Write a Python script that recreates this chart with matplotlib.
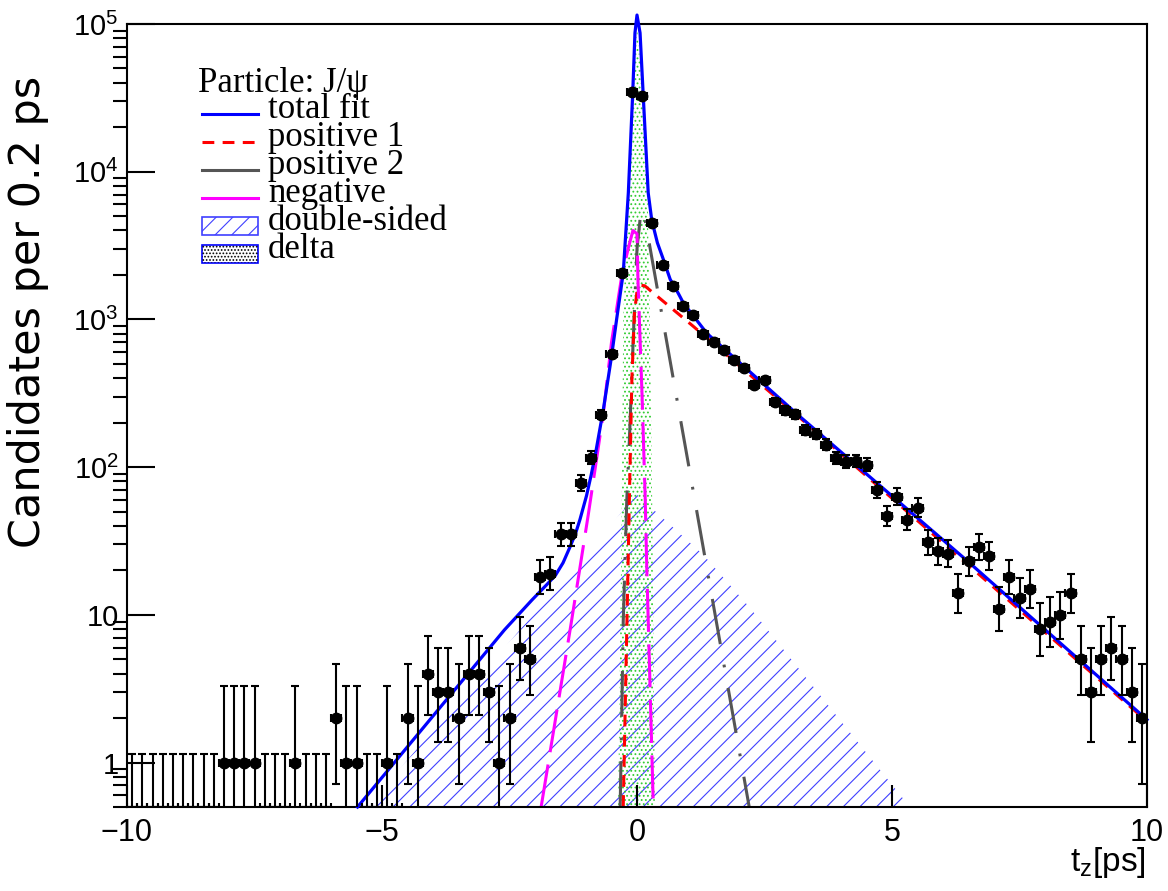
import numpy as np
import matplotlib
matplotlib.use('Agg')
import matplotlib.pyplot as plt
from matplotlib.lines import Line2D
from matplotlib.patches import Rectangle

plt.rcParams['font.family'] = ['Liberation Sans', 'DejaVu Sans']
plt.rcParams['mathtext.fontset'] = 'custom'
plt.rcParams['mathtext.rm'] = 'Liberation Sans'
plt.rcParams['mathtext.it'] = 'Liberation Sans:italic'
plt.rcParams['lines.scale_dashes'] = False
plt.rcParams['hatch.linewidth'] = 0.8

# --- data: decay-time histogram, bins of 0.2 ps ---
t_bins = np.round(np.arange(-9.9, 10.0, 0.2), 1)
counts = np.array([
    0, 0, 0, 0, 0, 0, 0, 0, 0, 1,
    1, 1, 1, 0, 0, 0, 1, 0, 0, 0,
    2, 1, 1, 0, 0, 1, 0, 2, 1, 4,
    3, 3, 2, 4, 4, 3, 1, 2, 6, 5,
    18, 19, 35, 35, 78, 116, 226, 585, 2058, 34900,
    32700, 4490, 2340, 1696, 1236, 1074, 795, 708, 623, 533,
    468, 361, 386, 275, 242, 228, 179, 168, 142, 115,
    109, 110, 104, 70, 47, 63, 44, 53, 31, 27,
    26, 14, 23, 29, 25, 11, 18, 13, 15, 8,
    9, 10, 14, 5, 3, 5, 6, 5, 3, 2])
zero_bin_top = 1.15

# fit components
total_t = [-5.48, -2.6, -2.06, -1.77, -1.6, -1.45, -1.31, -1.2, -1.12, -0.99, -0.9, -0.82,
           -0.66, -0.5, -0.4, -0.27, -0.17, -0.084, -0.04, 0.0, 0.06, 0.12, 0.22, 0.29,
           0.4, 0.52, 0.65, 0.81, 0.91, 1.1, 1.37, 3.2, 6.45, 10.0]
total_v = [0.5, 7.9, 12.6, 16.0, 18.5, 22.5, 29, 36, 44, 64, 88, 120,
           245, 560, 1000, 2058, 7180, 34000, 87000, 115000, 87000, 34000, 7180, 4680,
           3300, 2530, 1870, 1500, 1290, 1062, 805, 219, 23.6, 1.95]
pos1_t = [-0.27, -0.2, -0.15, -0.1, -0.05, 0.0, 0.08, 0.15, 1.1, 3.2, 10.0]
pos1_v = [0.5, 8, 60, 400, 1100, 1550, 1700, 1690, 900, 215, 1.9]
pos2_t = [-0.33, -0.3, -0.27, -0.2, -0.15, -0.08, 0.0, 0.08, 0.16, 2.25]
pos2_v = [0.5, 2, 9, 60, 150, 650, 3000, 5500, 4700, 0.4]
neg_t = [-1.88, -1.29, -1.12, -0.95, -0.79, -0.66, -0.5, -0.3, -0.17, -0.08, 0.0,
         0.02, 0.1, 0.16, 0.19, 0.32]
neg_v = [0.5, 8.8, 20.7, 49, 115, 232, 700, 1960, 3040, 4000, 3800,
         1800, 300, 63, 22, 0.5]
dbl_t = [-5.3, -1.0, 0.0, 1.3, 2.22, 5.35]
dbl_v = [0.5, 26, 65, 25.5, 11.1, 0.5]
delta_t = [-0.37, -0.3, -0.27, -0.2, -0.1, 0.0, 0.1, 0.2, 0.25, 0.3, 0.35]
delta_v = [0.5, 50, 1000, 5000, 40000, 95000, 40000, 10000, 1000, 50, 0.5]

# Gehrels approx. of Poisson intervals
nz = counts > 0
n = counts[nz].astype(float)
err_lo = n - n * (1 - 1 / (9 * n) - 1 / (3 * np.sqrt(n))) ** 3
err_hi = np.sqrt(n + 0.75) + 1

ymin, ymax = 0.5, 1e5

W, H = 1168, 891
fig = plt.figure(figsize=(W / 100, H / 100), dpi=100)
ax = fig.add_axes([127 / W, 1 - 807 / H, 1020 / W, 783 / H])

def fx(px):
    return px / W

def fy(py):
    return 1 - py / H

hatch_blue = '#4040ff'
ax.fill_between(dbl_t, 0.1, dbl_v, facecolor='none', edgecolor=hatch_blue, hatch='//',
                linewidth=0, zorder=1)
ax.fill_between(delta_t, 0.1, delta_v, facecolor='none', edgecolor='#33cc33', hatch='....',
                linewidth=0, zorder=1)

ax.plot(pos2_t, pos2_v, color='#555555', lw=2.2, dashes=(33, 15, 2, 15), zorder=2)
ax.plot(pos1_t, pos1_v, color='#ff0000', lw=2.2, dashes=(8.5, 6), zorder=2)
ax.plot(neg_t, neg_v, color='#ff00ff', lw=2.2, dashes=(31, 9), zorder=2)
ax.plot(total_t, total_v, color='#0000ff', lw=2.3, zorder=3, clip_on=False)

ax.errorbar(t_bins[nz], n, xerr=0.1, yerr=[err_lo, err_hi], fmt='o', ms=7.5, color='black',
            elinewidth=1.5, capsize=3, capthick=1.5, zorder=5)
nzero = (~nz).sum()
ax.errorbar(t_bins[~nz], np.full(nzero, ymin), xerr=0.1,
            yerr=[np.zeros(nzero), np.full(nzero, zero_bin_top - ymin)], fmt='none',
            color='black', elinewidth=1.5, capsize=3, capthick=1.5, zorder=5)

ax.set_yscale('log')
ax.set_xlim(-10, 10)
ax.set_ylim(ymin, ymax)
ax.set_xticks([-10, -5, 0, 5, 10])
ax.set_xticklabels(['\u221210', '\u22125', '0', '5', '10'])
ax.set_yticks([1, 10, 100, 1e3, 1e4, 1e5])
ax.set_yticklabels(['1', '10', r'$\mathregular{10^{2}}$', r'$\mathregular{10^{3}}$',
                    r'$\mathregular{10^{4}}$', r'$\mathregular{10^{5}}$'])
ax.yaxis.set_minor_locator(matplotlib.ticker.LogLocator(base=10, subs=np.arange(2, 10)))
ax.yaxis.set_minor_formatter(matplotlib.ticker.NullFormatter())
ax.xaxis.set_minor_locator(matplotlib.ticker.NullLocator())
ax.tick_params(axis='both', direction='in', labelsize=21, width=1.5)
ax.tick_params(axis='x', length=16, pad=8, labelsize=22)
ax.tick_params(axis='y', which='major', length=20, pad=6)
ax.tick_params(axis='y', which='minor', length=10, width=1.5)
for s in ax.spines.values():
    s.set_linewidth(1.5)

fig.text(fx(28), fy(76), 'Candidates per 0.2 ps', rotation=90, ha='center', va='top',
         fontsize=31, family=['DejaVu Sans'])
fig.text(fx(1146), fy(862), r'$\mathregular{t_z}$[ps]', ha='right', va='center', fontsize=24)

# legend, drawn by hand (ROOT style, no frame)
serif = ['Liberation Serif', 'DejaVu Serif']
fig.text(fx(198), fy(92), 'Particle: J/\u03c8', family=serif, fontsize=25, va='baseline')
leg_labels = ['total fit', 'positive 1', 'positive 2', 'negative', 'double-sided', 'delta']
for i, lab in enumerate(leg_labels):
    fig.text(fx(268), fy(118 + 28 * i), lab, family=serif, fontsize=25, va='baseline')
line_styles = [dict(color='#0000ff'), dict(color='#ff0000', dashes=(8.5, 6)),
               dict(color='#555555'), dict(color='#ff00ff')]
for i, st in enumerate(line_styles):
    yy = fy(114 + 28 * i)
    fig.add_artist(Line2D([fx(202), fx(258)], [yy, yy], lw=2.2, **st))
fig.add_artist(Rectangle((fx(202), fy(235)), fx(56), 18 / H, facecolor='white',
                         edgecolor=hatch_blue, hatch='//', lw=1.2))
fig.add_artist(Rectangle((fx(202), fy(263)), fx(56), 18 / H, facecolor='white',
                         edgecolor='#0000ff', lw=1.2))
fig.add_artist(Rectangle((fx(202), fy(263)), fx(56), 18 / H, facecolor='none',
                         edgecolor='black', hatch='.....', lw=0))

fig.savefig('out.png', dpi=100)
